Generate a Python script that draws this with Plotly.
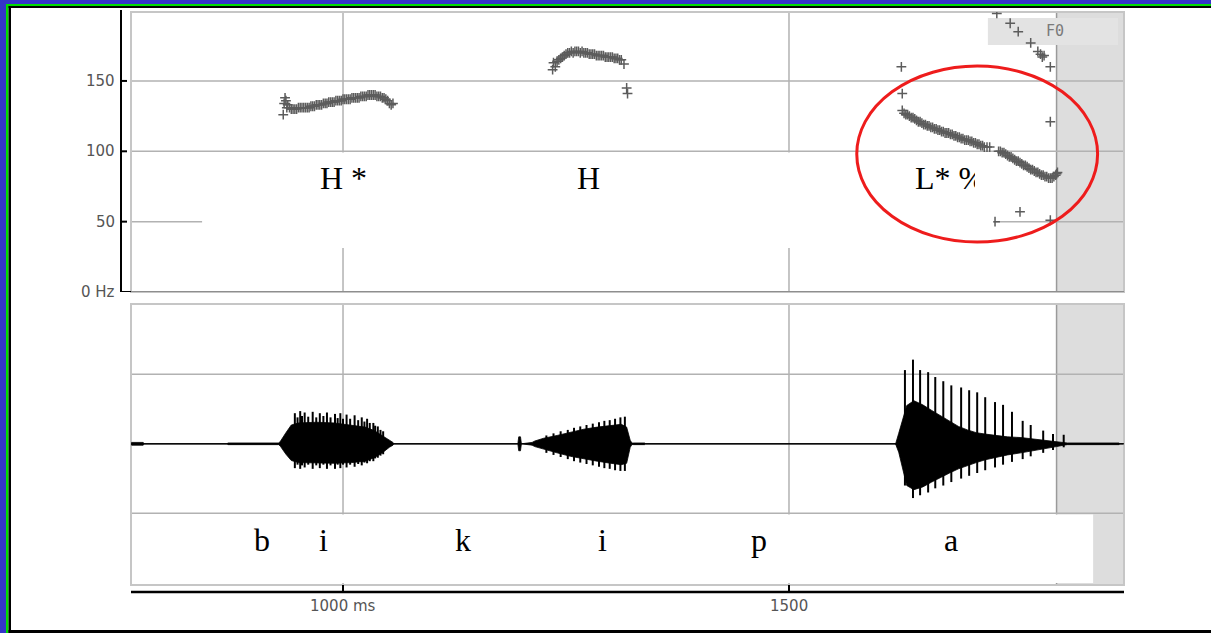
import plotly.graph_objects as go

W, H = 1211, 633

# ---------------- axes / ticks ----------------
time_range = [762.3, 1875.6]          # ms
f0_range = [0, 199]                   # Hz
wave_range = [-2.03, 2.01]            # relative amplitude
f0_ticks = [0, 50, 100, 150]
f0_tick_text = ["0 Hz", "50", "100", "150"]
time_ticks = [1000, 1500]
time_tick_text = ["1000 ms", "1500"]
wave_grid = [1, -1]
excluded_start_ms = 1800

# ---------------- F0 samples ----------------
f0_bi_t = [933, 934, 935, 936, 937, 938, 940, 942, 944, 946,
           948, 950, 952, 954, 956, 958, 960, 962, 964, 966,
           968, 970, 972, 974, 976, 978, 980, 982, 984, 986,
           988, 990, 992, 994, 996, 998, 1000, 1002, 1004, 1006,
           1008, 1010, 1012, 1014, 1016, 1018, 1020, 1022, 1024, 1026,
           1028, 1030, 1032, 1034, 1036, 1038, 1040, 1042, 1044, 1046,
           1048, 1050, 1052, 1054, 1056]
f0_bi_hz = [126, 134, 138, 136, 131, 133, 131, 130, 130, 130,
            130, 131, 131, 131, 131, 131, 131, 131, 132, 132,
            132, 133, 133, 133, 133, 134, 134, 134, 135, 135,
            135, 135, 136, 136, 136, 136, 137, 137, 137, 137,
            137, 138, 138, 138, 138, 138, 139, 139, 139, 139,
            140, 140, 140, 140, 140, 139, 139, 139, 138, 138,
            137, 136, 134, 133, 134]

f0_ki_t = [1235, 1236, 1238, 1240, 1242, 1244, 1246, 1248, 1250, 1252,
           1254, 1256, 1258, 1260, 1262, 1264, 1266, 1268, 1270, 1272,
           1274, 1276, 1278, 1280, 1282, 1284, 1286, 1288, 1290, 1292,
           1294, 1296, 1298, 1300, 1302, 1304, 1306, 1308, 1310, 1312,
           1315, 1318, 1319]
f0_ki_hz = [158, 163, 160, 164, 165, 166, 167, 168, 169, 170,
            170, 171, 170, 171, 171, 171, 170, 171, 170, 170,
            170, 169, 169, 169, 169, 168, 168, 168, 168, 168,
            167, 167, 167, 167, 167, 166, 166, 166, 165, 165,
            162, 145, 141]

f0_pa_t = [1627, 1629, 1631, 1633, 1635, 1637, 1639, 1641, 1643, 1645,
           1647, 1649, 1651, 1653, 1655, 1657, 1659, 1661, 1663, 1665,
           1667, 1669, 1671, 1673, 1675, 1677, 1679, 1681, 1683, 1685,
           1687, 1689, 1691, 1693, 1695, 1697, 1699, 1701, 1703, 1705,
           1707, 1709, 1711, 1713, 1715, 1717, 1719, 1722, 1725,
           1735, 1737, 1739, 1741, 1743, 1745, 1747, 1749, 1751, 1753,
           1755, 1757, 1759, 1761, 1763, 1765, 1767, 1769, 1771, 1773,
           1775, 1777, 1779, 1781, 1783, 1785, 1787, 1789, 1791, 1793,
           1795, 1797, 1799, 1800, 1801]
f0_pa_hz = [129, 127, 126, 126, 125, 124, 124, 123, 122, 121,
            121, 120, 119, 119, 118, 118, 117, 117, 116, 116,
            115, 115, 114, 114, 113, 113, 113, 112, 112, 111,
            111, 110, 110, 109, 109, 108, 108, 108, 107, 107,
            106, 106, 105, 105, 104, 104, 103, 103, 103,
            100, 100, 99, 99, 98, 97, 96, 96, 95, 94,
            93, 93, 92, 91, 90, 90, 89, 88, 87, 87,
            86, 85, 85, 84, 83, 83, 82, 82, 81, 81,
            81, 82, 83, 84, 85]

f0_stray_t = [1626, 1627, 1793, 1759, 1793, 1731,
              1733, 1748, 1757, 1771, 1779, 1782, 1784, 1786, 1793]
f0_stray_hz = [160, 141, 121, 57, 51, 50,
               198, 191, 185, 177, 171, 169, 167, 168, 160]

# ---------------- waveform envelope ----------------
wave_t = [762, 763, 776, 777, 870, 871, 928, 930, 936, 942,
          950, 970, 990, 1010, 1025, 1035, 1045, 1052, 1056, 1057,
          1196, 1197, 1199, 1200, 1205, 1212, 1215, 1225, 1240, 1255,
          1270, 1285, 1300, 1312, 1318, 1322, 1324, 1326, 1338, 1339,
          1619, 1620, 1623, 1627, 1632, 1640, 1650, 1660, 1670, 1680,
          1690, 1700, 1710, 1720, 1730, 1745, 1760, 1775, 1790, 1800,
          1808, 1812, 1870, 1871, 1876]
wave_hi = [0, .02, .02, 0, 0, .012, .012, .04, .16, .27,
           .3, .31, .3, .27, .24, .19, .11, .05, .02, 0,
           0, .1, .1, 0, .012, .02, .04, .08, .12, .17,
           .21, .24, .26, .28, .24, .05, .01, .012, .012, 0,
           0, .02, .15, .32, .55, .62, .56, .48, .4, .32,
           .25, .2, .16, .14, .12, .1, .09, .07, .05, .03,
           .02, .012, .012, 0, 0]
wave_lo = [0, -.02, -.02, 0, 0, -.012, -.012, -.04, -.15, -.24,
           -.27, -.28, -.28, -.27, -.25, -.2, -.12, -.05, -.02, 0,
           0, -.1, -.1, 0, -.012, -.02, -.04, -.08, -.13, -.18,
           -.22, -.25, -.28, -.3, -.28, -.05, -.01, -.012, -.012, 0,
           0, -.02, -.12, -.34, -.6, -.66, -.62, -.55, -.48, -.42,
           -.36, -.31, -.27, -.23, -.2, -.16, -.13, -.1, -.07, -.04,
           -.02, -.012, -.012, 0, 0]

# glottal pulses (spikes)
pulse_t = [946, 949, 952, 954, 957, 961, 966, 970, 974, 978,
           982, 986, 991, 994, 997, 1000, 1004, 1008, 1013, 1017,
           1021, 1024, 1027, 1030, 1034, 1036, 1039, 1042, 1045,
           1228, 1236, 1244, 1252, 1259, 1266, 1273, 1280, 1287, 1293,
           1299, 1305, 1311, 1316,
           1630, 1639, 1647, 1656, 1664, 1673, 1682, 1693, 1702, 1711,
           1720, 1731, 1740, 1750, 1762, 1771, 1785, 1796, 1808]
pulse_hi = [.44, .38, .47, .4, .45, .39, .46, .38, .44, .4,
            .45, .38, .43, .37, .44, .36, .42, .36, .41, .34,
            .38, .32, .36, .3, .3, .26, .25, .2, .18,
            .12, .15, .18, .2, .23, .25, .27, .29, .31, .33,
            .34, .36, .38, .39,
            1.06, 1.21, 1.06, 1.03, .96, .9, .84, .81, .77, .74,
            .67, .6, .56, .46, .33, .27, .19, .14, .13]
pulse_lo = [-.35, -.3, -.36, -.31, -.34, -.3, -.36, -.31, -.35, -.3,
            -.36, -.31, -.36, -.3, -.35, -.3, -.34, -.3, -.33, -.29,
            -.31, -.27, -.28, -.25, -.25, -.21, -.2, -.17, -.15,
            -.13, -.16, -.19, -.22, -.25, -.27, -.29, -.31, -.33, -.35,
            -.36, -.38, -.39, -.39,
            -.6, -.78, -.74, -.7, -.64, -.6, -.55, -.5, -.46, -.42,
            -.38, -.34, -.3, -.26, -.22, -.18, -.13, -.09, -.05]

# ---------------- labels ----------------
tone_t = [1000, 1275]
tone_text = ["H *", "H"]
tone_hz = 81
last_tone_t = 1639
last_tone_text = "L* %"
seg_t = [909, 978, 1135, 1291, 1466, 1682]
seg_text = ["b", "i", "k", "i", "p", "a"]
seg_y = -1.38
circle_t = [1576, 1846]
circle_hz = [35.5, 160.6]
tone_box_t = [842, 1729]
tone_box_hz = [31.3, 99.2]
seg_box_t = [842, 1841]
seg_box_y = [-2.0, -1.015]
f0_box_t = [1723, 1869]
f0_box_hz = [175.5, 194.7]

# ---------------- figure ----------------
fig = go.Figure()

all_f0_t = f0_bi_t + f0_ki_t + f0_pa_t + f0_stray_t
all_f0_hz = f0_bi_hz + f0_ki_hz + f0_pa_hz + f0_stray_hz
fig.add_trace(go.Scatter(
    x=all_f0_t, y=all_f0_hz, mode="markers", xaxis="x", yaxis="y",
    marker=dict(symbol="cross-thin", size=7, line=dict(width=1.5, color="#5c5c5c")),
    hoverinfo="skip", showlegend=False))

fig.add_trace(go.Scatter(x=wave_t, y=wave_hi, mode="lines", xaxis="x2", yaxis="y2",
                         line=dict(color="black", width=0.8), showlegend=False, hoverinfo="skip"))
fig.add_trace(go.Scatter(x=wave_t, y=wave_lo, mode="lines", xaxis="x2", yaxis="y2",
                         fill="tonexty", fillcolor="black",
                         line=dict(color="black", width=0.8), showlegend=False, hoverinfo="skip"))
sx, sy = [], []
for t, hi, lo in zip(pulse_t, pulse_hi, pulse_lo):
    sx += [t, t, None]
    sy += [lo, hi, None]
fig.add_trace(go.Scatter(x=sx, y=sy, mode="lines", xaxis="x2", yaxis="y2",
                         line=dict(color="black", width=2), showlegend=False, hoverinfo="skip"))

shapes = []
def px_x(p):
    return p / W
def px_y(p):
    return 1 - p / H

GRID = "#b2b2b2"
FRAME = "#c6c6c6"
SHADE = "#dddddd"

for xa, ya in (("x", "y"), ("x2", "y2")):
    shapes.append(dict(type="rect", xref=xa, yref=f"{ya} domain", x0=excluded_start_ms,
                       x1=time_range[1], y0=0, y1=1, fillcolor=SHADE, line=dict(width=0), layer="below"))
shapes.append(dict(type="rect", xref="x", yref="y", x0=f0_box_t[0], x1=f0_box_t[1],
                   y0=f0_box_hz[0], y1=f0_box_hz[1], fillcolor="#e3e3e3", line=dict(width=0), layer="below"))
for xa, ya in (("x", "y"), ("x2", "y2")):
    shapes.append(dict(type="line", xref=xa, yref=f"{ya} domain", x0=excluded_start_ms,
                       x1=excluded_start_ms, y0=0, y1=1, line=dict(color="#9a9a9a", width=1.5), layer="below"))
    for t in time_ticks:
        shapes.append(dict(type="line", xref=xa, yref=f"{ya} domain", x0=t, x1=t, y0=0, y1=1,
                           line=dict(color=GRID, width=1.5), layer="below"))
for v in f0_ticks[1:]:
    shapes.append(dict(type="line", xref="x domain", yref="y", x0=0, x1=1, y0=v, y1=v,
                       line=dict(color=GRID, width=1.5), layer="below"))
for v in wave_grid:
    shapes.append(dict(type="line", xref="x2 domain", yref="y2", x0=0, x1=1, y0=v, y1=v,
                       line=dict(color=GRID, width=1.5), layer="below"))
shapes.append(dict(type="line", xref="x2 domain", yref="y2", x0=0, x1=1, y0=0, y1=0,
                   line=dict(color="#3a3a3a", width=1.5), layer="below"))
for xa, ya in (("x", "y"), ("x2", "y2")):
    shapes.append(dict(type="rect", xref=f"{xa} domain", yref=f"{ya} domain", x0=0, x1=1, y0=0, y1=1,
                       line=dict(color=FRAME, width=2), layer="below"))
shapes.append(dict(type="line", xref="x domain", yref="y", x0=0, x1=1, y0=0, y1=0,
                   line=dict(color="#8e8e8e", width=2), layer="below"))
shapes.append(dict(type="rect", xref="x", yref="y", x0=tone_box_t[0], x1=tone_box_t[1],
                   y0=tone_box_hz[0], y1=tone_box_hz[1], fillcolor="white", line=dict(width=0), layer="above"))
shapes.append(dict(type="rect", xref="x2", yref="y2", x0=seg_box_t[0], x1=seg_box_t[1],
                   y0=seg_box_y[0], y1=seg_box_y[1], fillcolor="white", line=dict(width=0), layer="above"))
shapes.append(dict(type="circle", xref="x", yref="y", x0=circle_t[0], x1=circle_t[1],
                   y0=circle_hz[0], y1=circle_hz[1], line=dict(color="#ee1c1c", width=3), layer="above"))
shapes.append(dict(type="line", xref="paper", yref="y domain", x0=px_x(121), x1=px_x(121), y0=0, y1=1.007,
                   line=dict(color="black", width=2)))
for v in f0_ticks:
    shapes.append(dict(type="line", xref="paper", yref="y", x0=px_x(120), x1=px_x(131 if v == 0 else 127),
                       y0=v, y1=v, line=dict(color="black", width=2)))
shapes.append(dict(type="line", xref="x2 domain", yref="paper", x0=0, x1=1, y0=px_y(592), y1=px_y(592),
                   line=dict(color="black", width=2.5)))
for t in time_ticks:
    shapes.append(dict(type="line", xref="x2", yref="paper", x0=t, x1=t, y0=px_y(592), y1=px_y(585),
                       line=dict(color="black", width=2)))
BLUE, GREEN = "#3434c8", "#00dc00"
shapes += [
    dict(type="rect", xref="paper", yref="paper", x0=0, x1=1, y0=px_y(4), y1=1, fillcolor=BLUE, line=dict(width=0)),
    dict(type="rect", xref="paper", yref="paper", x0=0, x1=px_x(6), y0=0, y1=1, fillcolor=BLUE, line=dict(width=0)),
    dict(type="rect", xref="paper", yref="paper", x0=px_x(6), x1=1, y0=px_y(6), y1=px_y(4), fillcolor=GREEN, line=dict(width=0)),
    dict(type="rect", xref="paper", yref="paper", x0=px_x(6), x1=px_x(8.5), y0=0, y1=px_y(4), fillcolor=GREEN, line=dict(width=0)),
    dict(type="rect", xref="paper", yref="paper", x0=px_x(8.5), x1=1, y0=px_y(8), y1=px_y(6), fillcolor="black", line=dict(width=0)),
    dict(type="rect", xref="paper", yref="paper", x0=px_x(8.5), x1=px_x(11), y0=0, y1=px_y(6), fillcolor="black", line=dict(width=0)),
    dict(type="rect", xref="paper", yref="paper", x0=px_x(8.5), x1=1, y0=0, y1=px_y(630), fillcolor="black", line=dict(width=0)),
]

annotations = []
TICKFONT = dict(family="DejaVu Sans", size=15, color="#555555")
SERIF = dict(family="Liberation Serif", size=32, color="black")
for v, txt in zip(f0_ticks, f0_tick_text):
    annotations.append(dict(x=px_x(117), y=v, xref="paper", yref="y", text=txt, showarrow=False,
                            xanchor="right", yanchor="middle", font=TICKFONT))
for t, txt in zip(time_ticks, time_tick_text):
    annotations.append(dict(x=t, y=px_y(606), xref="x2", yref="paper", text=txt, showarrow=False,
                            xanchor="center", yanchor="middle", font=TICKFONT))
for t, txt in zip(tone_t, tone_text):
    annotations.append(dict(x=t, y=tone_hz, xref="x", yref="y", text=txt, showarrow=False,
                            xanchor="center", yanchor="middle", font=SERIF))
annotations.append(dict(x=last_tone_t, y=tone_hz, xref="x", yref="y", text=last_tone_text, showarrow=False,
                        xanchor="left", yanchor="middle", align="left", width=60, font=SERIF))
for t, txt in zip(seg_t, seg_text):
    annotations.append(dict(x=t, y=seg_y, xref="x2", yref="y2", text=txt, showarrow=False,
                            xanchor="center", yanchor="middle", font=SERIF))
annotations.append(dict(x=1798, y=185.5, xref="x", yref="y", text="F0", showarrow=False,
                        xanchor="center", yanchor="middle",
                        font=dict(family="DejaVu Sans Mono", size=15, color="#7a7a7a")))

ax_common = dict(visible=False, range=time_range, domain=[px_x(131), px_x(1124)], fixedrange=True)
fig.update_layout(
    width=W, height=H, autosize=False,
    margin=dict(l=0, r=0, t=0, b=0),
    paper_bgcolor="white", plot_bgcolor="white",
    xaxis=dict(**ax_common, anchor="y"),
    xaxis2=dict(**ax_common, anchor="y2"),
    yaxis=dict(visible=False, range=f0_range, domain=[px_y(292), px_y(12)], anchor="x"),
    yaxis2=dict(visible=False, range=wave_range, domain=[px_y(585), px_y(304)], anchor="x2"),
    shapes=shapes, annotations=annotations, showlegend=False,
)

fig.write_html("out.html")
